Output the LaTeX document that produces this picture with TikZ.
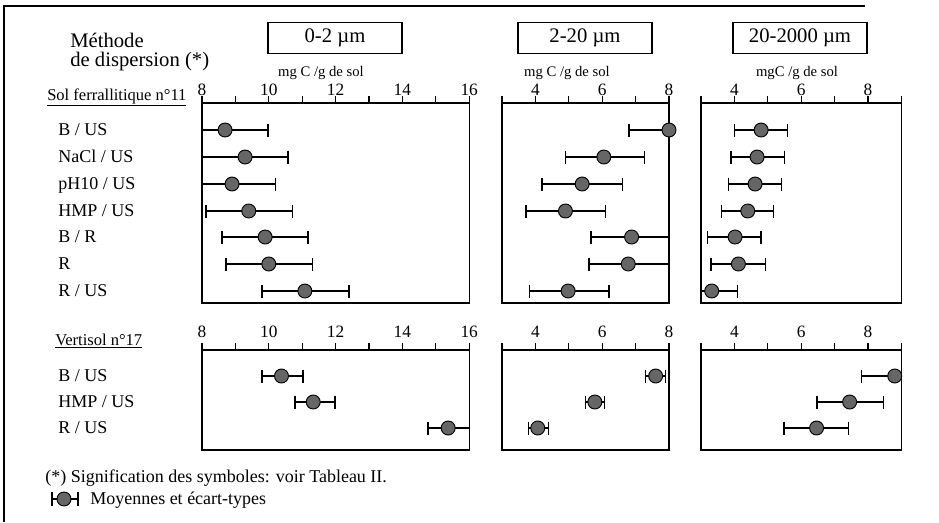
\documentclass[tikz,border=0pt]{standalone}
\usepackage{fontspec}
\setmainfont{Liberation Serif}
\newcommand\ebar[6]{% #1 origin px, #2 origin value, #3 y px, #4 lo, #5 mean, #6 hi
  \pgfmathsetmacro\xa{#1+33.4*(#4-#2)}%
  \pgfmathsetmacro\xb{#1+33.4*(#5-#2)}%
  \pgfmathsetmacro\xc{#1+33.4*(#6-#2)}%
  \draw[ebarline] (\xa,#3-6.5) -- (\xa,#3+6.5);
  \draw[ebarline] (\xc,#3-6.5) -- (\xc,#3+6.5);
  \draw[ebarline] (\xa,#3) -- (\xc,#3);
  \node[dot] at (\xb,#3) {};
}
\newcommand\panel[7]{% #1 origin px, #2 min value, #3 max value, #4 axis y, #5 bottom y, #6 label list, #7 label baseline y
  \pgfmathsetmacro\xr{#1+33.4*(#3-#2)}%
  \draw[frameline] (#1,#4-7) -- (#1,#5) -- (\xr,#5) -- (\xr,#4-7);
  \draw[frameline] (#1,#4) -- (\xr,#4);
  \pgfmathtruncatemacro\vmin{#2+1}%
  \pgfmathtruncatemacro\vmax{#3-1}%
  \foreach \v in {\vmin,...,\vmax} {
    \pgfmathsetmacro\xt{#1+33.4*(\v-#2)}
    \draw[frameline] (\xt,#4-7) -- (\xt,#4);
  }
  \foreach \v in {#6} {
    \pgfmathsetmacro\xt{#1+33.4*(\v-#2)}
    \node[axnum] at (\xt,#7) {\v};
  }
}
\begin{document}
\begin{tikzpicture}[x=0.75pt,y=-0.75pt,
  frameline/.style={line width=1pt},
  ebarline/.style={line width=1pt},
  dot/.style={circle, draw=black, line width=0.7pt, fill=black!60, minimum size=10.5pt, inner sep=0pt},
  rowlab/.style={anchor=base west, inner sep=0pt, font=\fontsize{13.5}{15}\selectfont},
  axnum/.style={anchor=base, inner sep=0pt, font=\fontsize{13}{15}\selectfont},
  unitlab/.style={anchor=base, inner sep=0pt, font=\fontsize{11}{13}\selectfont},
  sizebox/.style={draw, line width=0.8pt, minimum width=100.5pt, minimum height=23pt, inner sep=0pt, font=\fontsize{15.5}{17}\selectfont},
  title/.style={anchor=base west, inner sep=0pt, font=\fontsize{15.5}{17}\selectfont},
  section/.style={anchor=base west, inner sep=0pt, font=\fontsize{12.4}{14}\selectfont},
  legend/.style={anchor=base west, inner sep=0pt, font=\fontsize{13.5}{15}\selectfont}]
\useasboundingbox (0,0) rectangle (939,522);
\fill[white] (0,0) rectangle (939,522);
% outer frame
\draw[line width=1.1pt] (865,6) -- (4,6) -- (4,522);
% header
\node[title] (m1) at (70,47) {Méthode};
\node[title] (m2) at (70,66) {de dispersion (*)};
\node[sizebox] (b1) at (335,38) {0-2 µm};
\node[sizebox] (b2) at (585,38) {2-20 µm};
\node[sizebox] (b3) at (800,38) {20-2000 µm};
\node[unitlab] (u1) at (321,76) {mg C /g de sol};
\node[unitlab] (u2) at (567,76) {mg C /g de sol};
\node[unitlab] (u3) at (797,76) {mgC /g de sol};
% section titles
\node[section] (s1) at (47,100) {\underline{Sol ferrallitique n°11}};
\node[section] (s2) at (55,345) {\underline{Vertisol n°17}};
% row labels top
\node[rowlab] (r1) at (58,135) {B / US};
\node[rowlab] (r2) at (58,162) {NaCl / US};
\node[rowlab] (r3) at (58,189) {pH10 / US};
\node[rowlab] (r4) at (58,216) {HMP / US};
\node[rowlab] (r5) at (58,242) {B / R};
\node[rowlab] (r6) at (58,269) {R};
\node[rowlab] (r7) at (58,296) {R / US};
% row labels bottom
\node[rowlab] (v1) at (58,381) {B / US};
\node[rowlab] (v2) at (58,407) {HMP / US};
\node[rowlab] (v3) at (58,433) {R / US};
% panels top
\panel{202}{8}{16}{103}{303}{8,10,12,14,16}{95}
\panel{502}{3}{8}{103}{303}{4,6,8}{95}
\panel{701}{3}{9}{103}{303}{4,6,8}{95}
% panels bottom
\panel{202}{8}{16}{350}{450}{8,10,12,14,16}{337}
\panel{502}{3}{8}{350}{450}{4,6,8}{337}
\panel{701}{3}{9}{350}{450}{4,6,8}{337}
% data 0-2
\ebar{202}{8}{130}{8}{8.69}{9.98}
\ebar{202}{8}{157}{8}{9.29}{10.57}
\ebar{202}{8}{184}{8.02}{8.9}{10.2}
\ebar{202}{8}{211}{8.12}{9.4}{10.7}
\ebar{202}{8}{237}{8.6}{9.89}{11.17}
\ebar{202}{8}{264}{8.72}{10.0}{11.3}
\ebar{202}{8}{291}{9.8}{11.08}{12.4}
% data 2-20
\ebar{502}{3}{130}{6.8}{8.0}{8.0}
\ebar{502}{3}{157}{4.9}{6.05}{7.27}
\ebar{502}{3}{184}{4.2}{5.4}{6.6}
\ebar{502}{3}{211}{3.72}{4.9}{6.1}
\ebar{502}{3}{237}{5.66}{6.88}{8.0}
\ebar{502}{3}{264}{5.6}{6.78}{8.0}
\ebar{502}{3}{291}{3.82}{4.98}{6.2}
% data 20-2000
\ebar{701}{3}{130}{4.0}{4.8}{5.58}
\ebar{701}{3}{157}{3.9}{4.68}{5.5}
\ebar{701}{3}{184}{3.83}{4.62}{5.4}
\ebar{701}{3}{211}{3.62}{4.4}{5.18}
\ebar{701}{3}{237}{3.2}{4.02}{4.8}
\ebar{701}{3}{264}{3.3}{4.12}{4.93}
\ebar{701}{3}{291}{3.0}{3.32}{4.1}
% vertisol
\ebar{202}{8}{376}{9.8}{10.38}{11.02}
\ebar{202}{8}{402}{10.78}{11.33}{11.98}
\ebar{202}{8}{428}{14.77}{15.37}{16}
\ebar{502}{3}{376}{7.3}{7.6}{7.9}
\ebar{502}{3}{402}{5.5}{5.78}{6.07}
\ebar{502}{3}{428}{3.8}{4.07}{4.4}
\ebar{701}{3}{376}{7.8}{8.8}{9.0}
\ebar{701}{3}{402}{6.47}{7.45}{8.47}
\ebar{701}{3}{428}{5.48}{6.46}{7.42}
% legend
\node[legend] (l1) at (45,482) {(*) Signification des symboles: voir Tableau II.};
\coordinate (ka) at (52,499);
\coordinate (kb) at (78,499);
\draw[ebarline] ([yshift=4.9pt]ka) -- ([yshift=-4.9pt]ka);
\draw[ebarline] ([yshift=4.9pt]kb) -- ([yshift=-4.9pt]kb);
\draw[ebarline] (ka) -- (kb);
\node[dot] (kd) at (64,499) {};
\node[legend] (l2) at (90,504) {Moyennes et écart-types};
\end{tikzpicture}
\end{document}
